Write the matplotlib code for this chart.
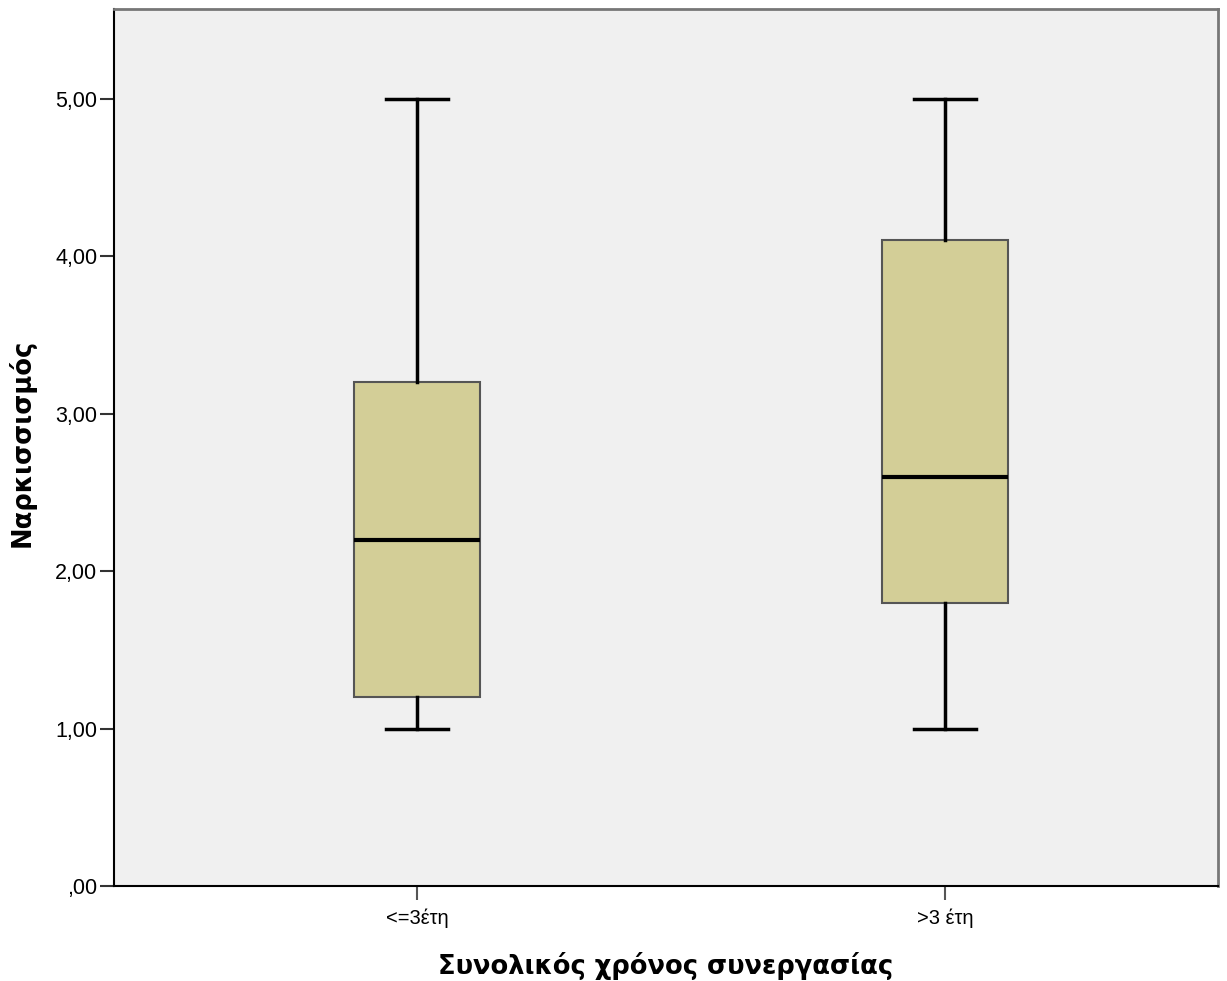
import matplotlib
matplotlib.use("Agg")
import matplotlib.pyplot as plt

categories = ["<=3έτη", ">3 έτη"]
whisker_low = [1.00, 1.00]
q1 = [1.20, 1.80]
median = [2.20, 2.60]
q3 = [3.20, 4.10]
whisker_high = [5.00, 5.00]
yticks = [0, 1, 2, 3, 4, 5]
ytick_labels = [",00", "1,00", "2,00", "3,00", "4,00", "5,00"]

plt.rcParams['font.family'] = ['Liberation Sans', 'DejaVu Sans']

fig = plt.figure(figsize=(12.27, 9.81), dpi=100)
ax = fig.add_axes([0.0929, 0.0968, 0.9927 - 0.0929, 0.9908 - 0.0968])
ax.set_facecolor('#F0F0F0')

stats = []
for i, c in enumerate(categories):
    stats.append(dict(label=c, whislo=whisker_low[i], q1=q1[i], med=median[i],
                      q3=q3[i], whishi=whisker_high[i], fliers=[]))

ax.bxp(stats, positions=[1, 2], widths=0.239, capwidths=0.118, patch_artist=True,
       showfliers=False,
       boxprops=dict(facecolor='#D3CE97', edgecolor='#555555', linewidth=1.5),
       medianprops=dict(color='black', linewidth=3),
       whiskerprops=dict(color='black', linewidth=2.5),
       capprops=dict(color='black', linewidth=2.5))

ax.set_xlim(0.425, 2.518)
ax.set_ylim(0, 5.57)
ax.set_yticks(yticks)
ax.set_yticklabels(ytick_labels, fontsize=15.5)
ax.set_xticks([1, 2])
ax.set_xticklabels(categories, fontsize=14.5)
ax.tick_params(axis='y', length=10, width=1.5, color='#333333', pad=2)
ax.tick_params(axis='x', length=10, width=1.5, color='#555555', pad=6)

for s in ['left', 'bottom']:
    ax.spines[s].set_color('black')
    ax.spines[s].set_linewidth(1.5)
for s in ['top', 'right']:
    ax.spines[s].set_color('#777777')
    ax.spines[s].set_linewidth(2)

ax.set_xlabel("Συνολικός χρόνος συνεργασίας", fontsize=18.5, fontweight='bold',
              family=['DejaVu Sans'], va='center')
ax.xaxis.set_label_coords(0.5, -0.091)
ax.set_ylabel("Ναρκισσισμός", fontsize=18.5, fontweight='bold',
              family=['DejaVu Sans'], va='center')
ax.yaxis.set_label_coords(-0.0834, 0.505)

fig.savefig("out.png", dpi=100)
